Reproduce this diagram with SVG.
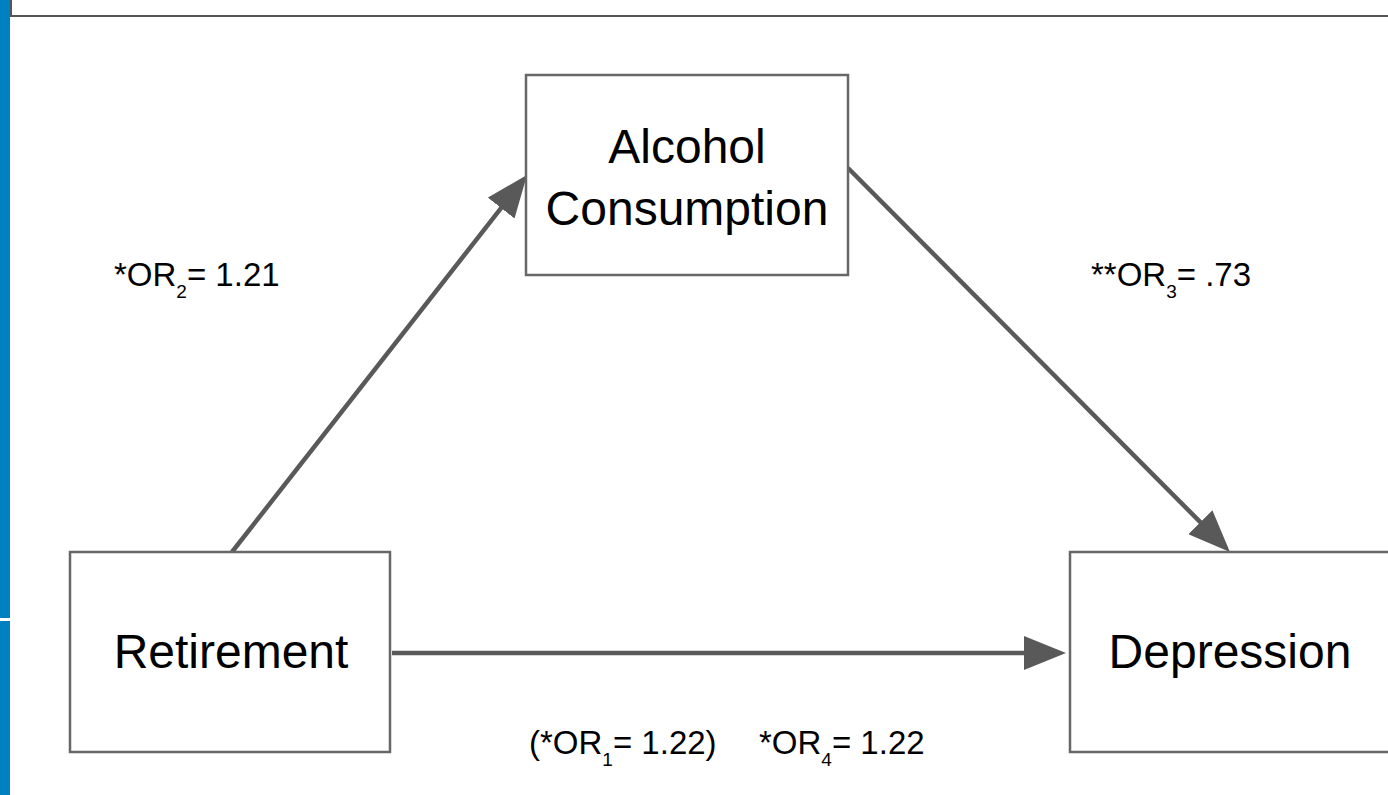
<svg xmlns="http://www.w3.org/2000/svg" width="1388" height="795" viewBox="0 0 1388 795">
<style>
.box{fill:#fff;stroke:#676767;stroke-width:2.5}
.lbl{font-family:"Liberation Sans",Arial,sans-serif;font-size:48px;fill:#000;text-anchor:middle}
.or{font-family:"Liberation Sans",Arial,sans-serif;font-size:33px;fill:#000}
.sub{font-size:19px}
.conn{stroke:#595959;stroke-width:4.5;fill:none}
</style>
<defs>
<marker id="ah" markerUnits="userSpaceOnUse" markerWidth="42" markerHeight="34" viewBox="0 0 42 34" refX="12" refY="17" orient="auto">
<path d="M0,0 L42,17 L0,34 z" fill="#595959"/>
</marker>
</defs>
<rect width="1388" height="795" fill="#fff"/>
<g id="frame">
<rect x="0" y="0" width="10" height="618" fill="#0080c0"/>
<rect x="0" y="621" width="10" height="174" fill="#0080c0"/>
<path d="M11,0 V16 H1388" fill="none" stroke="#555" stroke-width="2"/>
</g>
<g id="connectors">
<line class="conn" x1="232" y1="552" x2="508.5" y2="198.6" marker-end="url(#ah)"/>
<line class="conn" x1="848" y1="168" x2="1208.8" y2="530.7" marker-end="url(#ah)"/>
<line class="conn" x1="392" y1="653" x2="1036" y2="653" marker-end="url(#ah)"/>
</g>
<g id="alcohol">
<rect class="box" x="526" y="75" width="322" height="200"/>
<text class="lbl" x="687" y="163">Alcohol</text>
<text class="lbl" x="687" y="225">Consumption</text>
</g>
<g id="retirement">
<rect class="box" x="70" y="552" width="320" height="200"/>
<text class="lbl" x="231" y="668">Retirement</text>
</g>
<g id="depression">
<rect class="box" x="1070" y="552" width="330" height="200"/>
<text class="lbl" x="1230" y="668">Depression</text>
</g>
<g id="labels">
<text class="or" x="114" y="286">*OR<tspan class="sub" dy="12">2</tspan><tspan dy="-12">= 1.21</tspan></text>
<text class="or" x="1091" y="286">**OR<tspan class="sub" dy="12">3</tspan><tspan dy="-12">= .73</tspan></text>
<text class="or" x="529" y="754">(*OR<tspan class="sub" dy="12">1</tspan><tspan dy="-12">= 1.22)</tspan></text>
<text class="or" x="759" y="754">*OR<tspan class="sub" dy="12">4</tspan><tspan dy="-12">= 1.22</tspan></text>
</g>
</svg>
